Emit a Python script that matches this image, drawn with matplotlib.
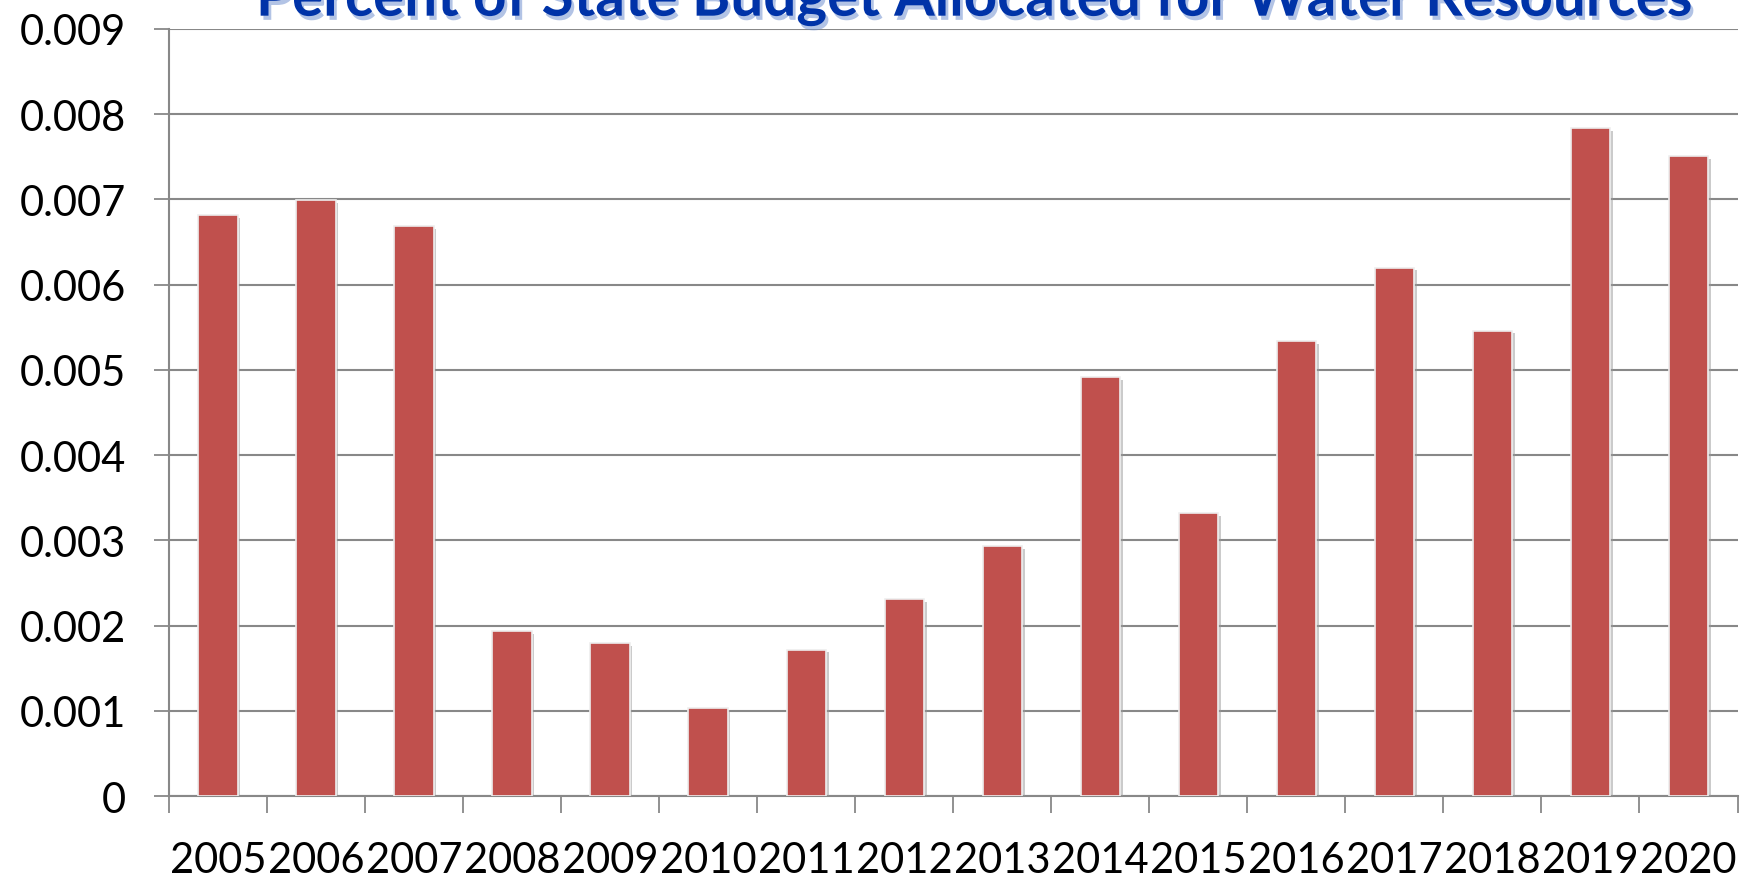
import matplotlib
matplotlib.use("Agg")
import matplotlib.pyplot as plt
import matplotlib.patheffects as pe
import numpy as np

# values
years = ['2005', '2006', '2007', '2008', '2009', '2010', '2011', '2012',
         '2013', '2014', '2015', '2016', '2017', '2018', '2019', '2020']
share = [0.00682, 0.00699, 0.00669, 0.00194, 0.00180, 0.00104, 0.00172, 0.00231,
         0.00293, 0.00492, 0.00332, 0.00534, 0.00620, 0.00546, 0.00784, 0.00751]
ytick_vals = [0, 0.001, 0.002, 0.003, 0.004, 0.005, 0.006, 0.007, 0.008, 0.009]
ytick_text = ['0', '0.001', '0.002', '0.003', '0.004', '0.005', '0.006', '0.007', '0.008', '0.009']

plt.rcParams['font.family'] = ['Lato', 'DejaVu Sans']

fig = plt.figure(figsize=(17.41, 8.78), dpi=100)
ax = fig.add_axes([0.097, 0.092, 0.901, 0.874])

x = np.arange(len(years))
ax.bar(x, share, width=0.4, color='#C0504D', edgecolor='#eeeeee', linewidth=1.2,
       zorder=3,
       path_effects=[pe.SimplePatchShadow(offset=(2, -2), shadow_rgbFace='#999999', alpha=0.5),
                     pe.Normal()])

ax.set_xlim(-0.5, len(years) - 0.5)
ax.set_ylim(0, 0.009)

grid_col = '#888888'
ax.set_yticks(ytick_vals)
ax.set_yticklabels(ytick_text)
ax.yaxis.grid(True, color=grid_col, linewidth=1.5, zorder=0)
ax.tick_params(axis='y', length=11, width=1.3, color=grid_col, pad=20, labelsize=30)

# ticks between categories, labels at centres
ax.set_xticks(np.arange(len(years) + 1) - 0.5)
ax.set_xticklabels([])
ax.set_xticks(x, minor=True)
ax.set_xticklabels(years, minor=True)
ax.tick_params(axis='x', which='major', length=12, width=1.3, color=grid_col)
ax.tick_params(axis='x', which='minor', length=0, pad=32, labelsize=30)

for side in ['top', 'right']:
    ax.spines[side].set_visible(False)
for side in ['left', 'bottom']:
    ax.spines[side].set_color(grid_col)
    ax.spines[side].set_linewidth(1.5)

# title sits partly above the top edge, as in the source image
fig.text(0.56, 0.981, 'Percent of State Budget Allocated for Water Resources',
         ha='center', va='baseline', fontsize=42, fontweight='bold', color='#0033A8',
         path_effects=[pe.withSimplePatchShadow(offset=(2, -3), shadow_rgbFace='#6688cc', alpha=0.5)])

fig.savefig('out.png', dpi=100)
